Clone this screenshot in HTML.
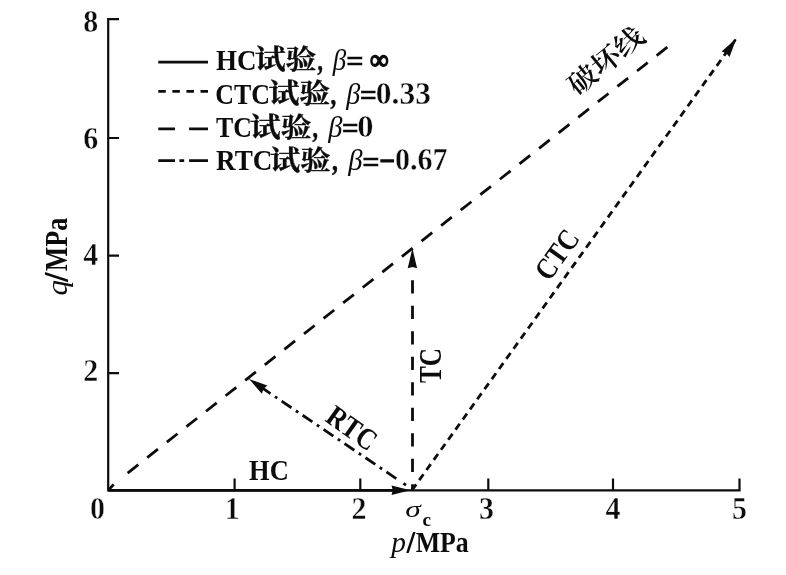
<!DOCTYPE html>
<html lang="zh">
<head>
<meta charset="utf-8">
<title>p-q 应力路径</title>
<style>
html,body{margin:0;padding:0;background:#fff;}
body{width:786px;height:575px;overflow:hidden;}
svg{display:block;}
text{font-family:"Liberation Serif","Noto Serif CJK SC",serif;fill:#0c0c0c;font-weight:bold;font-size:30px;}
.i{font-style:italic;font-weight:normal;}
.d{stroke:#fff;stroke-width:0.4px;}
.ax{stroke:#0c0c0c;stroke-width:2.2;fill:none;}
.ln{stroke:#0c0c0c;stroke-width:2.8;fill:none;}
</style>
</head>
<body>
<svg width="786" height="575" viewBox="0 0 786 575">
<rect width="786" height="575" fill="#fff"/>
<!-- axes -->
<path class="ax" d="M119 19.2H108.2V490.3H739.5V478.5"/>
<path class="ax" d="M108.2 138H119M108.2 255.7H119M108.2 373.1H119"/>
<path class="ax" d="M234.6 490.3V478.5M360.3 490.3V478.5M488.3 490.3V478.5M613 490.3V478.5"/>
<!-- tick labels -->
<text class="d" text-anchor="end" transform="translate(98.3,31.5) scale(1,1.05)">8</text>
<text class="d" text-anchor="end" transform="translate(98.3,148.5) scale(1,1.05)">6</text>
<text class="d" text-anchor="end" transform="translate(98.3,264.8) scale(1,1.05)">4</text>
<text class="d" text-anchor="end" transform="translate(98.3,381.4) scale(1,1.05)">2</text>
<text class="d" text-anchor="middle" transform="translate(97.5,519.3) scale(1,1.05)">0</text>
<text class="d" text-anchor="middle" transform="translate(232.2,519.3) scale(1,1.05)">1</text>
<text class="d" text-anchor="middle" transform="translate(359.1,519.3) scale(1,1.05)">2</text>
<text class="d" text-anchor="middle" transform="translate(486.5,519.3) scale(1,1.05)">3</text>
<text class="d" text-anchor="middle" transform="translate(613.1,519.3) scale(1,1.05)">4</text>
<text class="d" text-anchor="middle" transform="translate(739.4,519.3) scale(1,1.05)">5</text>
<!-- axis titles -->
<text y="551.6"><tspan x="391.22" textLength="14.69" lengthAdjust="spacingAndGlyphs" style="font-style:italic;font-weight:normal;font-size:29px">p</tspan><tspan x="408.2" textLength="5" lengthAdjust="spacingAndGlyphs" style="font-style:italic" stroke="#0c0c0c" stroke-width="2.0">/</tspan><tspan x="415.7" textLength="53.05" lengthAdjust="spacingAndGlyphs">MPa</tspan></text>
<text transform="translate(66.8,294.4) rotate(-90) scale(1,1.04)" y="0"><tspan x="-1.1" textLength="15.4" lengthAdjust="spacingAndGlyphs" style="font-style:italic;font-weight:normal;font-size:28px">q</tspan><tspan x="14.49" textLength="5.39" lengthAdjust="spacingAndGlyphs" style="font-style:italic" stroke="#0c0c0c" stroke-width="2.0">/</tspan><tspan x="23.2" textLength="53.35" lengthAdjust="spacingAndGlyphs">MPa</tspan></text>
<text y="516.6"><tspan x="405.3" textLength="15.52" lengthAdjust="spacingAndGlyphs" style="font-style:italic;font-weight:normal;font-size:24px">σ</tspan><tspan x="422.4" dy="9" textLength="8.5" lengthAdjust="spacingAndGlyphs" style="font-size:18px">c</tspan></text>
<!-- legend -->
<path class="ln" d="M158.3 62.2H208"/>
<path class="ln" d="M158.3 91.4H208" stroke-dasharray="7.5 6.57"/>
<path class="ln" d="M158.3 128.8H175M189.1 128.8H208"/>
<path class="ln" d="M158.3 160.6H175M179.4 160.6H184.2M189.1 160.6H208"/>
<text y="69.8"><tspan x="216.1" textLength="40.4" lengthAdjust="spacingAndGlyphs">HC</tspan><tspan x="254.66" dy="-0.5" textLength="61.79" lengthAdjust="spacingAndGlyphs" style="font-size:27px" stroke="#0c0c0c" stroke-width="0.35">试验</tspan><tspan x="317.6" dy="0.5" textLength="5.36" lengthAdjust="spacingAndGlyphs" stroke="#0c0c0c" stroke-width="0.6">,</tspan><tspan x="332.8" textLength="13.46" lengthAdjust="spacingAndGlyphs" style="font-style:italic;font-weight:normal">β</tspan><tspan x="346.18" dy="1.4" textLength="17.45" lengthAdjust="spacingAndGlyphs" stroke="#0c0c0c" stroke-width="0.5">=</tspan><tspan x="370.2" dy="-1.9" textLength="18.08" lengthAdjust="spacingAndGlyphs" style="font-size:28px" stroke="#0c0c0c" stroke-width="1.7" stroke-linejoin="round">∞</tspan></text>
<text y="103.6"><tspan x="215.24" textLength="54.72" lengthAdjust="spacingAndGlyphs">CTC</tspan><tspan x="268.46" dy="-0.5" textLength="61.79" lengthAdjust="spacingAndGlyphs" style="font-size:27px" stroke="#0c0c0c" stroke-width="0.35">试验</tspan><tspan x="330.5" dy="0.5" textLength="5.68" lengthAdjust="spacingAndGlyphs" stroke="#0c0c0c" stroke-width="0.6">,</tspan><tspan x="346.24" textLength="14.02" lengthAdjust="spacingAndGlyphs" style="font-style:italic;font-weight:normal">β</tspan><tspan x="359.8" dy="1.4" textLength="17.11" lengthAdjust="spacingAndGlyphs" stroke="#0c0c0c" stroke-width="0.5">=</tspan><tspan x="375.88" dy="-1.4" textLength="55.08" lengthAdjust="spacingAndGlyphs" style="font-size:31px" class="d">0.33</tspan></text>
<text y="137"><tspan x="216.1" textLength="35.85" lengthAdjust="spacingAndGlyphs">TC</tspan><tspan x="249.76" dy="-0.5" textLength="61.79" lengthAdjust="spacingAndGlyphs" style="font-size:27px" stroke="#0c0c0c" stroke-width="0.35">试验</tspan><tspan x="312.5" dy="0.5" textLength="5.46" lengthAdjust="spacingAndGlyphs" stroke="#0c0c0c" stroke-width="0.6">,</tspan><tspan x="328.15" textLength="14.2" lengthAdjust="spacingAndGlyphs" style="font-style:italic;font-weight:normal">β</tspan><tspan x="341.81" dy="1.4" textLength="17" lengthAdjust="spacingAndGlyphs" stroke="#0c0c0c" stroke-width="0.5">=</tspan><tspan x="357.25" dy="-1.4" textLength="16.27" lengthAdjust="spacingAndGlyphs" style="font-size:31px" class="d">0</tspan></text>
<text y="170.3"><tspan x="216.1" textLength="56.28" lengthAdjust="spacingAndGlyphs">RTC</tspan><tspan x="269.87" dy="-0.5" textLength="60.85" lengthAdjust="spacingAndGlyphs" style="font-size:27px" stroke="#0c0c0c" stroke-width="0.35">试验</tspan><tspan x="331.9" dy="0.5" textLength="5.89" lengthAdjust="spacingAndGlyphs" stroke="#0c0c0c" stroke-width="0.6">,</tspan><tspan x="348.16" textLength="14.3" lengthAdjust="spacingAndGlyphs" style="font-style:italic;font-weight:normal">β</tspan><tspan x="362.38" dy="1.4" textLength="17.45" lengthAdjust="spacingAndGlyphs" stroke="#0c0c0c" stroke-width="0.5">=</tspan><tspan x="381.12" dy="-4.2" textLength="12.35" lengthAdjust="spacingAndGlyphs" stroke="#0c0c0c" stroke-width="1.2">–</tspan><tspan x="394.93" dy="2.8" textLength="52.71" lengthAdjust="spacingAndGlyphs" style="font-size:31px" class="d">0.67</tspan></text>
<!-- failure line -->
<path class="ln" d="M667.3 47.1L126.5 474" stroke-dasharray="13.6 11.36"/>
<path class="ln" d="M108.6 490L113.7 484.4"/>
<!-- CTC path -->
<path class="ln" d="M736.5 38.3L412.5 489.5" stroke-dasharray="7.2 5.24" stroke-dashoffset="-1.8"/>
<!-- TC path -->
<path class="ln" d="M412.5 484.3V490.3M412.5 458.8V472M412.5 433.3V446.5M412.5 407.8V421M412.5 382.3V395.5M412.5 356.8V370M412.5 331.3V344.5M412.5 305.8V319M412.5 280.3V293.5"/>
<!-- RTC path -->
<path class="ln" d="M249.1 379.1L396.6 478.8" stroke-dasharray="11.8 5.4 2.8 5.3" stroke-dashoffset="-14"/>
<path class="ln" d="M403.4 483.4L406 485.2"/>
<!-- HC path -->
<path class="ln" d="M108.2 490.3H395" stroke-width="2.5"/>
<!-- arrowheads -->
<g fill="#0c0c0c">
<path d="M410.5 490.3L391.5 495L392.8 490.3L391.5 485.6Z"/>
<path d="M412.4 248.3L417.1 268.3L412.4 267L407.7 268.3Z"/>
<path d="M736.5 38.3L729.52 56.92L726.3 53.13L721.61 51.49Z"/>
<path d="M249.1 379.1L267.36 385.47L263.52 388.85L261.82 393.67Z"/>
</g>
<!-- labels -->
<text transform="translate(249.1,480.2) scale(0.88,1)">HC</text>
<g transform="translate(440.8,383) rotate(-90)">
<text transform="translate(0,0) scale(0.84,1.05)">TC</text>
</g>
<g transform="translate(324.1,420.6) rotate(35.4)">
<text transform="translate(0,0) scale(0.87,1)">RTC</text>
</g>
<g transform="translate(549.8,281.6) rotate(-54.3)">
<text transform="translate(-0.85,0) scale(0.85,1)">CTC</text>
</g>
<g transform="translate(605.4,59.9) rotate(-39.4)"><text text-anchor="middle" y="11.6" style="font-weight:600" transform="scale(1,0.9)">破坏线</text></g>
</svg>
</body>
</html>
